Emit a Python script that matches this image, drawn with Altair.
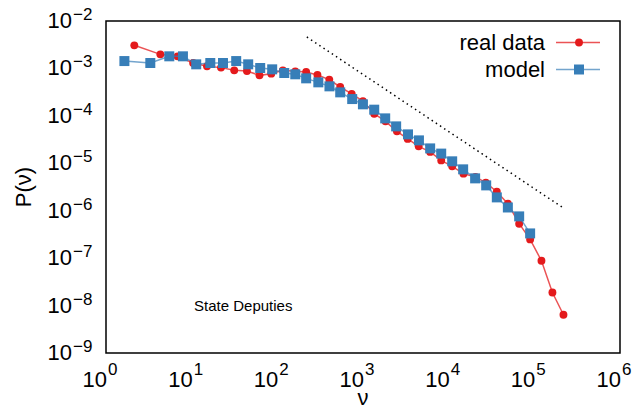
import altair as alt
import pandas as pd

# ---- data (log-log) ----
real_x = [2.14, 4.31, 6.84, 10.4, 15.1, 22.0, 31.4, 44.2, 61.9, 84.9, 116, 162, 217, 294, 404,
          542, 738, 998, 1352, 1832, 2489, 3327, 4467, 6081, 8185, 10990, 14890, 20510,
          27160, 36480, 49090, 66530, 89330, 121100, 162600, 218800]
real_y = [3.07e-3, 1.98e-3, 1.80e-3, 1.30e-3, 1.11e-3, 1.04e-3, 9.12e-4, 8.81e-4, 7.14e-4,
          7.76e-4, 9.12e-4, 8.69e-4, 8.39e-4, 7.26e-4, 5.81e-4, 4.06e-4, 2.91e-4, 2.05e-4,
          1.11e-4, 7.66e-5, 4.71e-5, 3.27e-5, 2.28e-5, 1.74e-5, 1.15e-5, 8.61e-6, 6.04e-6,
          5.16e-6, 3.90e-6, 2.52e-6, 1.41e-6, 5.32e-7, 2.48e-7, 8.81e-8, 1.89e-8, 6.40e-9]

model_x = [1.64, 3.29, 5.48, 7.91, 11.3, 16.5, 23.2, 33.1, 45.7, 63.1, 87.1, 120.5, 162, 217,
           301, 406, 542, 748, 998, 1352, 1816, 2438, 3350, 4498, 6081, 8185, 10990, 14760,
           20370, 27420, 36480, 49090, 66530, 89330]
model_y = [1.43e-3, 1.30e-3, 1.80e-3, 1.80e-3, 1.22e-3, 1.30e-3, 1.30e-3, 1.43e-3, 1.22e-3,
           1.02e-3, 9.57e-4, 8.0e-4, 7.52e-4, 6.18e-4, 5.09e-4, 4.19e-4, 3.13e-4, 2.26e-4,
           1.75e-4, 1.35e-4, 8.85e-5, 6.0e-5, 4.07e-5, 3.04e-5, 2.06e-5, 1.60e-5, 1.10e-5,
           7.45e-6, 4.81e-6, 3.42e-6, 1.91e-6, 1.17e-6, 7.59e-7, 3.32e-7]

guide_x = [221, 213000]
guide_y = [4.6e-3, 1.175e-6]

x_ticks = [1, 10, 100, 1e3, 1e4, 1e5, 1e6]
x_exps = ["0", "1", "2", "3", "4", "5", "6"]
y_ticks = [1e-9, 1e-8, 1e-7, 1e-6, 1e-5, 1e-4, 1e-3, 1e-2]
y_exps = ["−9", "−8", "−7", "−6", "−5", "−4", "−3", "−2"]

series_names = ["real data", "model"]
annotation = "State Deputies"

# ---- styling ----
W, H = 514, 332
FONT = "Liberation Sans"
RED = "#e41a1c"
BLUE = "#377eb8"

xs = alt.Scale(type="log", domain=[1, 1e6])
ys = alt.Scale(type="log", domain=[1e-9, 1e-2])

real_df = pd.DataFrame({"x": real_x, "y": real_y})
model_df = pd.DataFrame({"x": model_x, "y": model_y})
guide_df = pd.DataFrame({"x": guide_x, "y": guide_y})
xt_df = pd.DataFrame({"v": x_ticks, "b": ["10"] * len(x_ticks), "e": x_exps})
yt_df = pd.DataFrame({"v": y_ticks, "b": ["10"] * len(y_ticks), "e": y_exps})

ax_common = dict(labels=False, title=None, grid=False, tickSize=6, tickColor="black",
                 domainColor="black", domainWidth=1.5, tickWidth=1.5)

real_line = alt.Chart(real_df).mark_line(color=RED, strokeWidth=1.5, opacity=0.75).encode(
    x=alt.X("x:Q", scale=xs, axis=alt.Axis(values=x_ticks, **ax_common)),
    y=alt.Y("y:Q", scale=ys, axis=alt.Axis(values=y_ticks, **ax_common)),
)
real_pts = alt.Chart(real_df).mark_point(shape="circle", filled=True, color=RED, size=62,
                                          opacity=1).encode(
    x=alt.X("x:Q", scale=xs, axis=None), y=alt.Y("y:Q", scale=ys, axis=None))
model_line = alt.Chart(model_df).mark_line(color=BLUE, strokeWidth=1.5, opacity=0.7).encode(
    x=alt.X("x:Q", scale=xs, axis=None), y=alt.Y("y:Q", scale=ys, axis=None))
model_pts = alt.Chart(model_df).mark_point(shape="square", filled=True, color=BLUE, size=100,
                                            opacity=1).encode(
    x=alt.X("x:Q", scale=xs, axis=None), y=alt.Y("y:Q", scale=ys, axis=None))
guide = alt.Chart(guide_df).mark_line(color="black", strokeWidth=1.5,
                                      strokeDash=[1.5, 3.5]).encode(
    x=alt.X("x:Q", scale=xs, axis=None), y=alt.Y("y:Q", scale=ys, axis=None))

# tick labels with superscript exponents
x_base = alt.Chart(xt_df).mark_text(align="right", baseline="middle", fontSize=22, font=FONT,
                                    dx=1, color="black").encode(
    x=alt.X("v:Q", scale=xs, axis=None), y=alt.value(H + 27), text="b:N")
x_exp = alt.Chart(xt_df).mark_text(align="left", baseline="middle", fontSize=17, font=FONT,
                                   dx=2, color="black").encode(
    x=alt.X("v:Q", scale=xs, axis=None), y=alt.value(H + 17), text="e:N")
y_base = alt.Chart(yt_df).mark_text(align="right", baseline="middle", fontSize=22, font=FONT,
                                    color="black").encode(
    x=alt.value(-34), y=alt.Y("v:Q", scale=ys, axis=None), text="b:N")
y_exp = alt.Chart(yt_df).mark_text(align="left", baseline="middle", fontSize=17, font=FONT,
                                   dy=-6, color="black").encode(
    x=alt.value(-33), y=alt.Y("v:Q", scale=ys, axis=None), text="e:N")

x_title = alt.Chart(pd.DataFrame({"t": ["ν"]})).mark_text(
    fontSize=22, font=FONT, baseline="middle", color="black").encode(
    x=alt.value(W / 2), y=alt.value(H + 45), text="t:N")
y_title = alt.Chart(pd.DataFrame({"t": ["P(ν)"]})).mark_text(
    fontSize=22, font=FONT, baseline="middle", angle=270, color="black").encode(
    x=alt.value(-82), y=alt.value(H / 2), text="t:N")

note = alt.Chart(pd.DataFrame({"t": [annotation], "x": [40], "y": [1e-8]})).mark_text(
    fontSize=15, font=FONT, baseline="middle", color="black").encode(
    x=alt.X("x:Q", scale=xs, axis=None), y=alt.Y("y:Q", scale=ys, axis=None), text="t:N")

# legend (drawn manually: label left of symbol)
leg_text = alt.Chart(pd.DataFrame({"t": series_names, "yy": [21.5, 48.5]})).mark_text(
    align="right", baseline="middle", fontSize=22, font=FONT, color="black").encode(
    x=alt.value(439), y=alt.Y("yy:Q", scale=None, axis=None), text="t:N")
leg_red_line = alt.Chart(pd.DataFrame({"a": [0]})).mark_rule(
    color=RED, strokeWidth=1.5, opacity=0.75).encode(
    x=alt.value(450), x2=alt.value(494), y=alt.value(21.5))
leg_red_pt = alt.Chart(pd.DataFrame({"a": [0]})).mark_point(
    shape="circle", filled=True, color=RED, size=62, opacity=1).encode(
    x=alt.value(473), y=alt.value(21.5))
leg_blue_line = alt.Chart(pd.DataFrame({"a": [0]})).mark_rule(
    color=BLUE, strokeWidth=1.5, opacity=0.7).encode(
    x=alt.value(450), x2=alt.value(494), y=alt.value(48.5))
leg_blue_pt = alt.Chart(pd.DataFrame({"a": [0]})).mark_point(
    shape="square", filled=True, color=BLUE, size=100, opacity=1).encode(
    x=alt.value(473), y=alt.value(48.5))

chart = alt.layer(
    real_line, real_pts, model_line, model_pts, guide,
    x_base, x_exp, y_base, y_exp, x_title, y_title, note,
    leg_text, leg_red_line, leg_red_pt, leg_blue_line, leg_blue_pt,
).properties(
    width=W, height=H,
    autosize=alt.AutoSizeParams(type="none"),
    padding={"left": 98, "top": 13, "right": 12, "bottom": 56},
    background="white",
).configure_view(stroke="black", strokeWidth=1.5)

chart.save("out.html", embed_options={"renderer": "svg", "actions": False})
